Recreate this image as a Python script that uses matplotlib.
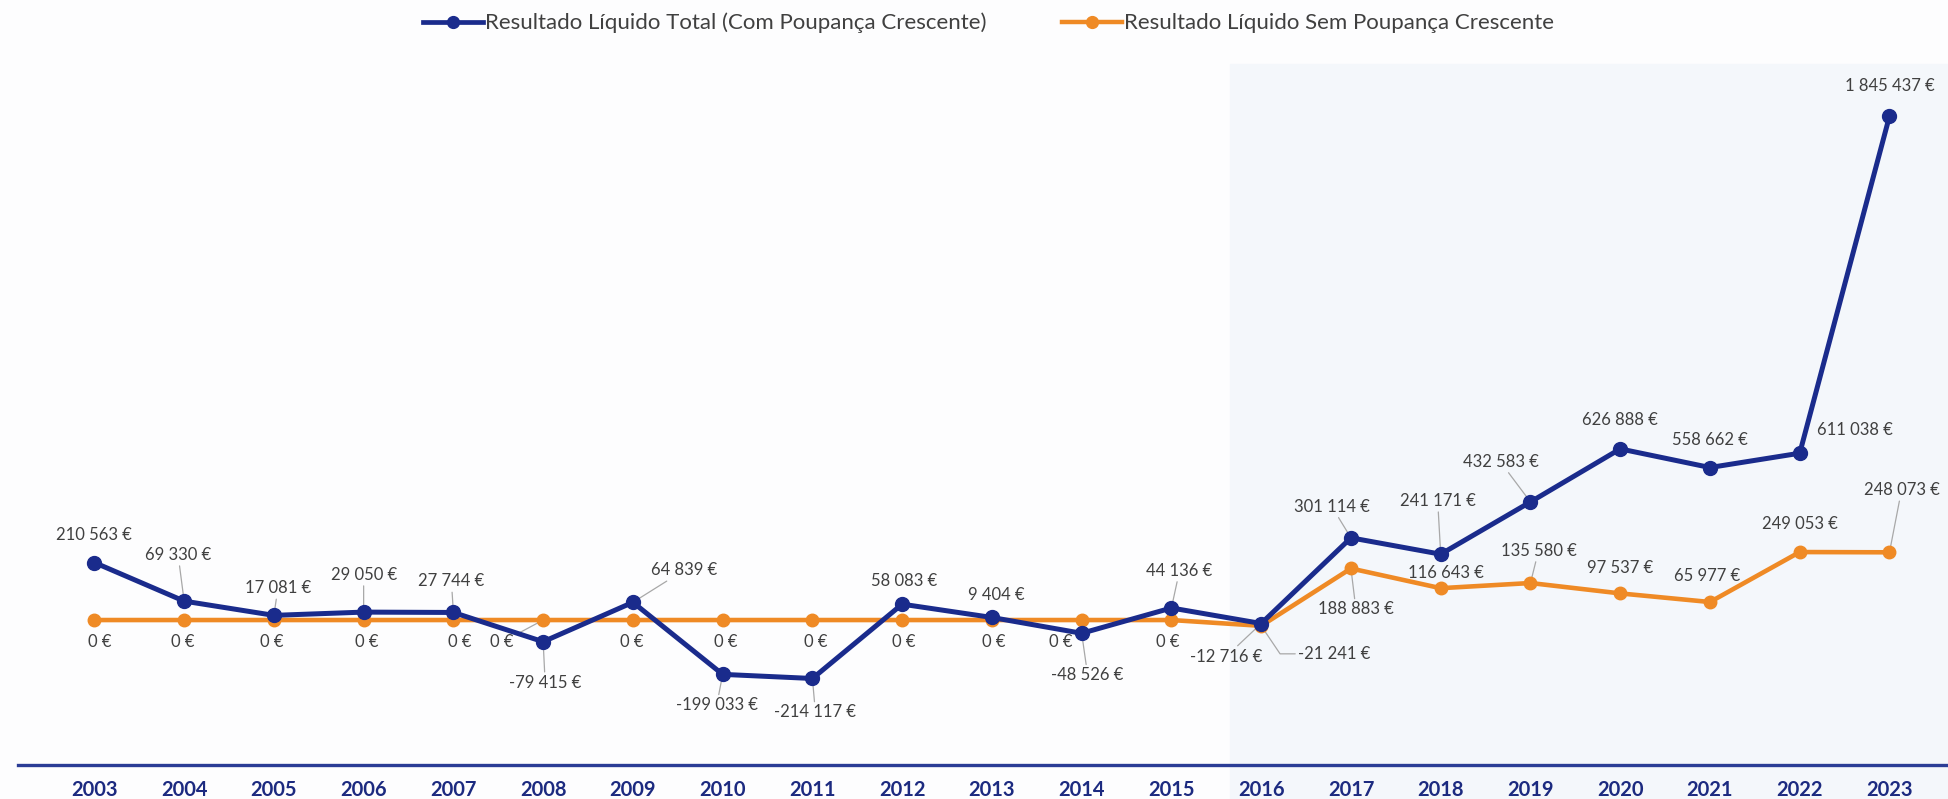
import matplotlib
matplotlib.use("Agg")
import matplotlib.pyplot as plt
from matplotlib.lines import Line2D
from matplotlib.patches import Rectangle

plt.rcParams['font.family'] = ['Lato', 'DejaVu Sans']

# dados
anos = list(range(2003, 2024))
total_com_poupanca = [210563, 69330, 17081, 29050, 27744, -79415, 64839, -199033, -214117,
                      58083, 9404, -48526, 44136, -12716, 301114, 241171, 432583, 626888,
                      558662, 611038, 1845437]
sem_poupanca = [0, 0, 0, 0, 0, 0, 0, 0, 0, 0, 0, 0, 0, -21241, 188883, 116643, 135580,
                97537, 65977, 249053, 248073]
nome_total = "Resultado Líquido Total (Com Poupança Crescente)"
nome_sem = "Resultado Líquido Sem Poupança Crescente"

AZUL = '#1a2b8c'
LARANJA = '#ef8a25'
CINZA_TXT = '#404040'
CINZA_LINHA = '#a8a8a8'

# posição das etiquetas (dx, dy em pixeis) e se levam linha de chamada
pos_total = [(0, 28, 0), (-6, 46, 1), (4, 27, 1), (0, 37, 1), (-2, 31, 1), (2, -41, 1),
             (51, 32, 1), (-6, -31, 1), (3, -34, 1), (2, 23, 0), (4, 22, 0), (6, -42, 1),
             (8, 37, 1), (-35, -33, 1), (-19, 31, 1), (-3, 53, 1), (-30, 40, 1), (0, 29, 0),
             (0, 28, 0), (55, 23, 0), (0, 30, 0)]
pos_sem = [(5, -22, 0), (-1, -22, 0), (-2, -22, 0), (3, -22, 0), (6, -22, 0), (-41, -22, 1),
           (-1, -22, 0), (3, -22, 0), (3, -22, 0), (2, -22, 0), (2, -22, 0), (-21, -22, 0),
           (-4, -22, 0), (73, -28, 2), (5, -41, 1), (5, 15, 0), (8, 32, 1), (0, 25, 0),
           (-3, 26, 0), (0, 28, 0), (12, 62, 1)]


def euros(v):
    return f"{v:,}".replace(',', ' ') + " €"


fig = plt.figure(figsize=(19.48, 7.99), dpi=100)
fig.patch.set_facecolor('#fdfdfe')
# fundo ligeiramente azulado do lado direito
fig.patches.append(Rectangle((1230 / 1948, 0), 1 - 1230 / 1948, 0.92,
                             transform=fig.transFigure, color='#f4f7fb', zorder=0))

ax = fig.add_axes([18 / 1948, 34 / 799, 1 - 18 / 1948, 715 / 799])
ax.set_facecolor('none')
ax.set_zorder(2)

ax.plot(anos, sem_poupanca, color=LARANJA, lw=3.3, marker='o', ms=9, zorder=3)
ax.plot(anos, total_com_poupanca, color=AZUL, lw=3.6, marker='o', ms=10, zorder=4)


def etiquetas(valores, posicoes):
    for ano, v, (dx, dy, chamada) in zip(anos, valores, posicoes):
        kw = {}
        if chamada == 1:
            kw['arrowprops'] = dict(arrowstyle='-', color=CINZA_LINHA, lw=0.9,
                                    shrinkA=0, shrinkB=0)
        elif chamada == 2:
            kw['arrowprops'] = dict(arrowstyle='-', color=CINZA_LINHA, lw=0.9,
                                    shrinkA=0, shrinkB=0, relpos=(0, 0.5),
                                    connectionstyle='angle,angleA=0,angleB=-56,rad=0')
        ax.annotate(euros(v), (ano, v), xytext=(dx, dy), textcoords='offset pixels',
                    ha='center', va='center', fontsize=12, color=CINZA_TXT,
                    zorder=2, **kw)


etiquetas(total_com_poupanca, pos_total)
etiquetas(sem_poupanca, pos_sem)

ax.set_xlim(2002.149, 2023.652)
ax.set_ylim(-531000, 2088000)
ax.set_xticks(anos)
ax.set_xticklabels([str(a) for a in anos], fontsize=14.5, fontweight='bold', color='#1c2a80')
ax.tick_params(axis='x', length=0, pad=11)
ax.set_yticks([])
for lado in ['top', 'right', 'left']:
    ax.spines[lado].set_visible(False)
ax.spines['bottom'].set_color('#2b3d96')
ax.spines['bottom'].set_linewidth(2.4)

handles = [Line2D([], [], color=AZUL, lw=3.4, marker='o', ms=8.5),
           Line2D([], [], color=LARANJA, lw=3.2, marker='o', ms=8.5)]
fig.legend(handles, [nome_total, nome_sem], loc='center', bbox_to_anchor=(0.5074, 0.971),
           ncol=2, frameon=False, fontsize=16, labelcolor=CINZA_TXT,
           handlelength=2.7, handletextpad=0.1, columnspacing=3.4)

fig.savefig('out.png', dpi=100, facecolor=fig.get_facecolor())
